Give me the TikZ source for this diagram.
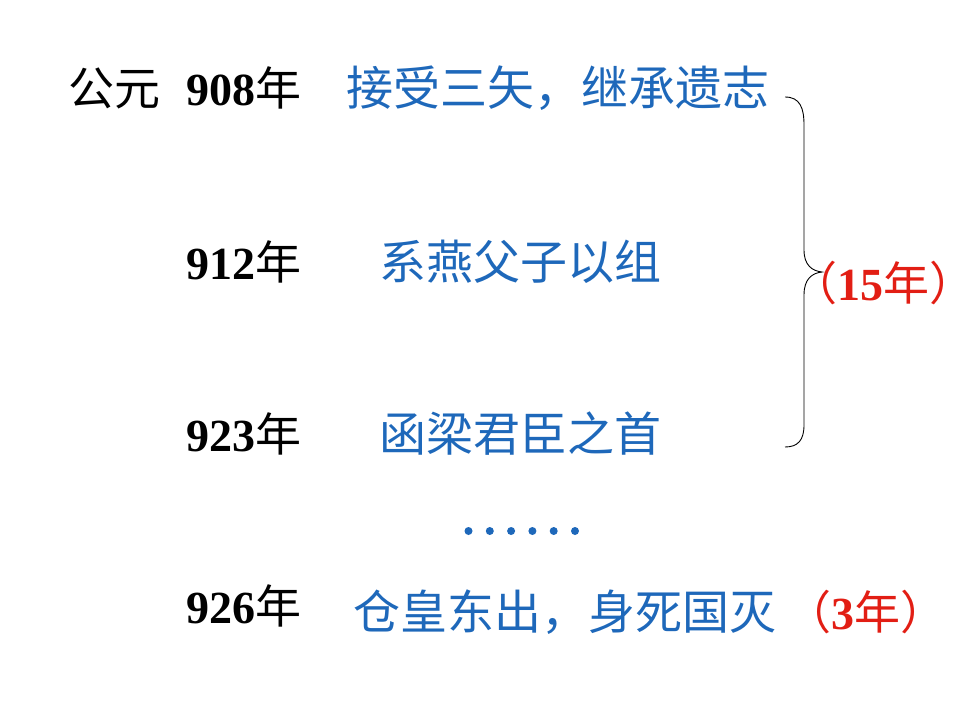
\documentclass[tikz,border=0pt]{standalone}
\usepackage{fontspec}
\setmainfont{Liberation Serif}
\newfontfamily\cjk{Noto Sans CJK SC}
\definecolor{txtblue}{RGB}{30,104,186}
\definecolor{txtred}{RGB}{226,30,20}
\begin{document}
\begin{tikzpicture}[x=1pt,y=-1pt,
  base/.style={inner sep=0pt,outer sep=0pt,anchor=west,font=\fontsize{46}{46}\selectfont},
  yr/.style={base,text=black},
  ev/.style={base,text=txtblue,font=\fontsize{47}{47}\selectfont},
  dur/.style={base,text=txtred},
  brace/.style={draw=black,line width=0.9pt},
  dot/.style={circle,fill=txtblue,inner sep=0pt,minimum size=8pt}]
\useasboundingbox (0,0) rectangle (960,720);
\node[yr] (era) at (68,88) {\cjk 公元};
\node[yr] (y908) at (186,88) {\textbf{908}{\cjk 年}};
\node[ev] (e908) at (346,88) {\cjk 接受三矢，继承遗志};
\node[yr] (y912) at (186,262) {\textbf{912}{\cjk 年}};
\node[ev] (e912) at (379,262) {\cjk 系燕父子以组};
\node[yr] (y923) at (186,434) {\textbf{923}{\cjk 年}};
\node[ev] (e923) at (379,434) {\cjk 函梁君臣之首};
\foreach \i in {0,...,5}{\node[dot] (d\i) at (468.5+21.3*\i,531) {};}
\node[yr] (y926) at (186,606) {\textbf{926}{\cjk 年}};
\node[ev] (e926) at (353,612) {\cjk 仓皇东出，身死国灭};
\node[dur] (d3) at (785,612) {{\cjk （}\textbf{3}{\cjk 年}\rlap{\cjk ）}};
\node[dur] (d15) at (791,283) {{\cjk （}\textbf{15}{\cjk 年}\rlap{\cjk ）}};
\coordinate (bt) at (785,97);
\coordinate (bb) at (785,447);
\coordinate (tip) at (822,272);
\draw[brace] (bt) .. controls (800,97) and (804,108) .. (804,125)
  -- (804,250) .. controls (804,265) and (812,271) .. (tip)
  .. controls (812,273) and (804,279) .. (804,295)
  -- (804,425) .. controls (804,440) and (798,447) .. (bb);
\end{tikzpicture}
\end{document}
